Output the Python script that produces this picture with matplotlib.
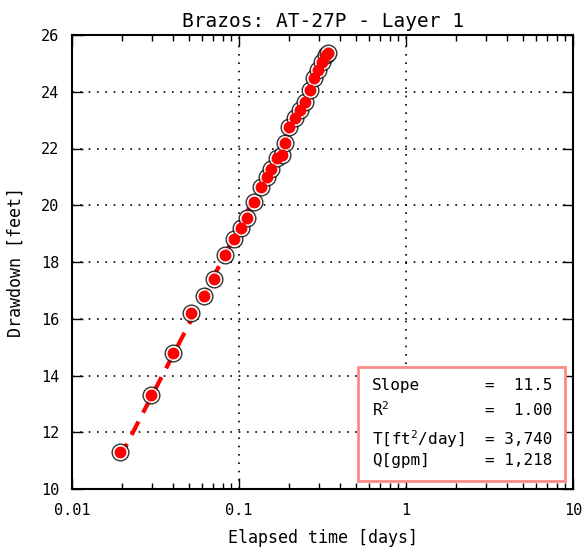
import matplotlib
matplotlib.use("Agg")
import matplotlib.pyplot as plt
import numpy as np
from matplotlib.patches import Rectangle

time_days = [0.0194, 0.0297, 0.0403, 0.0516, 0.0617, 0.0709, 0.0825, 0.0933,
             0.1028, 0.1116, 0.123, 0.1355, 0.147, 0.1556, 0.169, 0.181,
             0.188, 0.199, 0.216, 0.232, 0.248, 0.266, 0.281, 0.297,
             0.314, 0.332, 0.341]
drawdown_ft = [11.30, 13.31, 14.79, 16.20, 16.80, 17.40, 18.25, 18.81,
               19.20, 19.55, 20.11, 20.64, 21.00, 21.28, 21.67, 21.77,
               22.19, 22.76, 23.07, 23.36, 23.64, 24.06, 24.48, 24.77,
               25.05, 25.30, 25.37]

stat_labels = ["Slope", "R$^2$", "T[ft$^2$/day]", "Q[gpm]"]
stat_values = ["=  11.5", "=  1.00", "= 3,740", "= 1,218"]

plt.rcParams['font.family'] = ['DejaVu Sans Mono']
plt.rcParams['mathtext.fontset'] = 'custom'
plt.rcParams['mathtext.rm'] = 'DejaVu Sans Mono'
plt.rcParams['mathtext.it'] = 'DejaVu Sans Mono'
plt.rcParams['mathtext.default'] = 'rm'

fig = plt.figure(figsize=(5.85, 5.5), dpi=100)
ax = fig.add_axes([72 / 585, 61 / 550, 501 / 585, 454 / 550])

t = np.array(time_days)
s = np.array(drawdown_ft)

# straight-line fit on semilog axes (Cooper-Jacob)
coef = np.polyfit(np.log10(t), s, 1)
tt = np.array([t.min(), t.max()])
ax.plot(tt, np.polyval(coef, np.log10(tt)), color='red', lw=3,
        ls=(0, (3.6, 2.4)), zorder=2)

ax.plot(t, s, 'o', ms=12, mfc='white', mec='black', mew=1.0, alpha=0.8, zorder=3)
ax.plot(t, s, 'o', ms=7.5, color='red', mec='red', zorder=4)

ax.set_xscale('log')
ax.set_xlim(0.01, 10)
ax.set_ylim(10, 26)
ax.set_yticks(np.arange(10, 27, 2))
ax.set_xticks([0.01, 0.1, 1, 10])
ax.set_xticklabels(["0.01", "0.1", "1", "10"])

ax.grid(True, which='major', color='black', ls=(0, (1, 4)), lw=1.2)
ax.tick_params(which='both', direction='in', top=True, right=True, labelsize=11)
ax.tick_params(which='major', length=8, width=1)
ax.tick_params(which='minor', length=4, width=1)
ax.tick_params(axis='y', pad=9)
ax.tick_params(axis='x', pad=10)
for sp in ax.spines.values():
    sp.set_linewidth(1.5)

ax.set_title("Brazos: AT-27P - Layer 1", fontsize=14, pad=6)
ax.set_xlabel("Elapsed time [days]", fontsize=12, labelpad=8)
ax.set_ylabel("Drawdown [feet]", fontsize=12, labelpad=12)

# stats box
ax.add_patch(Rectangle((0.571, 0.018), 0.413, 0.25, transform=ax.transAxes,
                       fill=True, facecolor='white', edgecolor='#ff8a8a',
                       lw=2, zorder=5))
row_y = [0.229, 0.174, 0.110, 0.063]
for lab, val, y in zip(stat_labels, stat_values, row_y):
    ax.text(0.599, y, lab, transform=ax.transAxes, ha='left', va='center',
            fontsize=11.5, zorder=6)
    ax.text(0.958, y, val, transform=ax.transAxes, ha='right', va='center',
            fontsize=11.5, zorder=6)

fig.savefig("out.png", dpi=100)
